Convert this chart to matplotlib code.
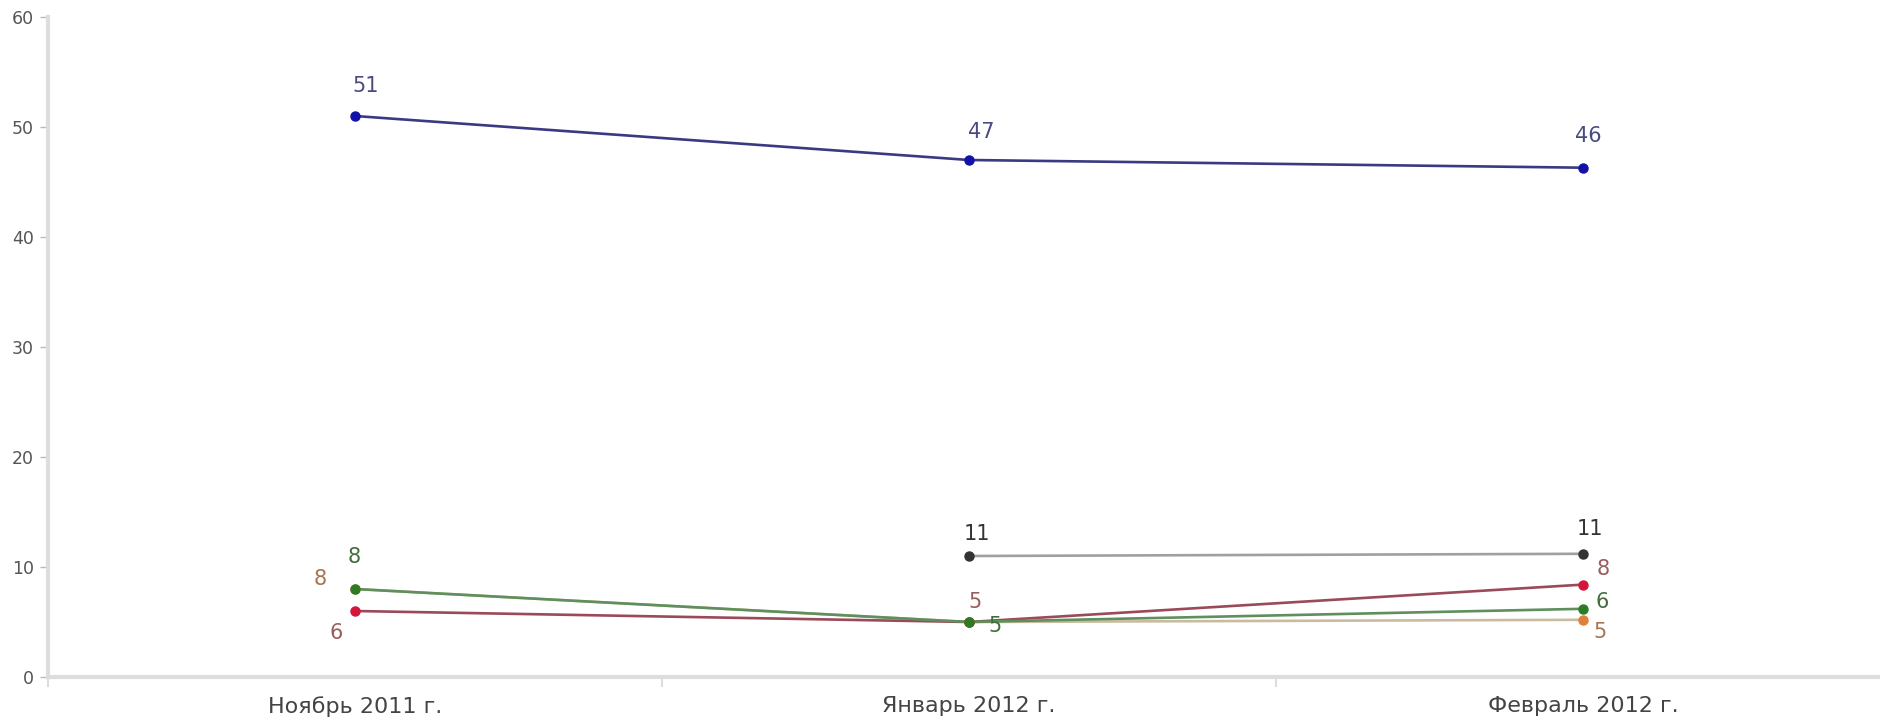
import matplotlib
matplotlib.use("Agg")
import matplotlib.pyplot as plt
import numpy as np

categories = ["Ноябрь 2011 г.", "Январь 2012 г.", "Февраль 2012 г."]
yticks = [0, 10, 20, 30, 40, 50, 60]

blue = [51, 47, 46.3]
gray = [np.nan, 11, 11.2]
red = [6, 5, 8.4]
green = [8, 5, 6.2]
orange = [8, 5, 5.2]

blue_labels = ["51", "47", "46"]
gray_labels = [None, "11", "11"]
red_labels = ["6", "5", "8"]
green_labels = ["8", "5", "6"]
orange_labels = ["8", None, "5"]

fig = plt.figure(figsize=(18.8, 7.21), dpi=100)
ax = fig.add_axes([48/1880, 44/721, 1 - 48/1880, (677-17)/721])

x = np.arange(len(categories))

series = [
    # values, labels, line color, marker color, label color, offsets (px)
    (orange, orange_labels, "#c9bb9f", "#e0803a", "#a8744f", [(-35, 10), None, (17, -12)]),
    (red, red_labels, "#9a4a58", "#d4163c", "#995b5b", [(-19, -22), (6, 20), (20, 16)]),
    (green, green_labels, "#5e8f5c", "#2a7d24", "#3f6e3c", [(-1, 32), (26, -4), (19, 7)]),
    (gray, gray_labels, "#a0a0a0", "#333333", "#333333", [None, (8, 22), (7, 25)]),
    (blue, blue_labels, "#3a3a82", "#1212a8", "#4a4a80", [(11, 30), (12, 28), (5, 32)]),
]

for i, (vals, labs, lc, mc, tc, offs) in enumerate(series):
    ax.plot(x, vals, color=lc, lw=1.9, zorder=2 + i * 0.1)
    ax.plot(x, vals, linestyle="none", marker="o", ms=6.5, color=mc, zorder=3 + i * 0.1)
    for xi, v, lab, off in zip(x, vals, labs, offs):
        if lab is None or off is None or np.isnan(v):
            continue
        ax.annotate(lab, (xi, v), xytext=off, textcoords="offset pixels",
                    ha="center", va="center", fontsize=15, color=tc, zorder=4)

ax.set_xlim(-0.5, (1880 - 48) / 614 - 0.5)
ax.set_ylim(0, 60)
ax.set_yticks(yticks)
ax.set_yticklabels([str(t) for t in yticks])
ax.set_xticks(x)
ax.set_xticklabels(categories)
ax.set_xticks([-0.5, 0.5, 1.5], minor=True)

for s in ["top", "right"]:
    ax.spines[s].set_visible(False)
for s in ["left", "bottom"]:
    ax.spines[s].set_color("#dddddd")
    ax.spines[s].set_linewidth(3)

ax.tick_params(axis="y", length=6, width=1, color="#bbbbbb", labelsize=12.5,
               labelcolor="#555555", pad=4)
ax.tick_params(axis="x", which="major", length=0, labelsize=16, labelcolor="#444444", pad=14)
ax.tick_params(axis="x", which="minor", length=7, width=1.5, color="#dddddd")

fig.savefig("out.png", dpi=100)
